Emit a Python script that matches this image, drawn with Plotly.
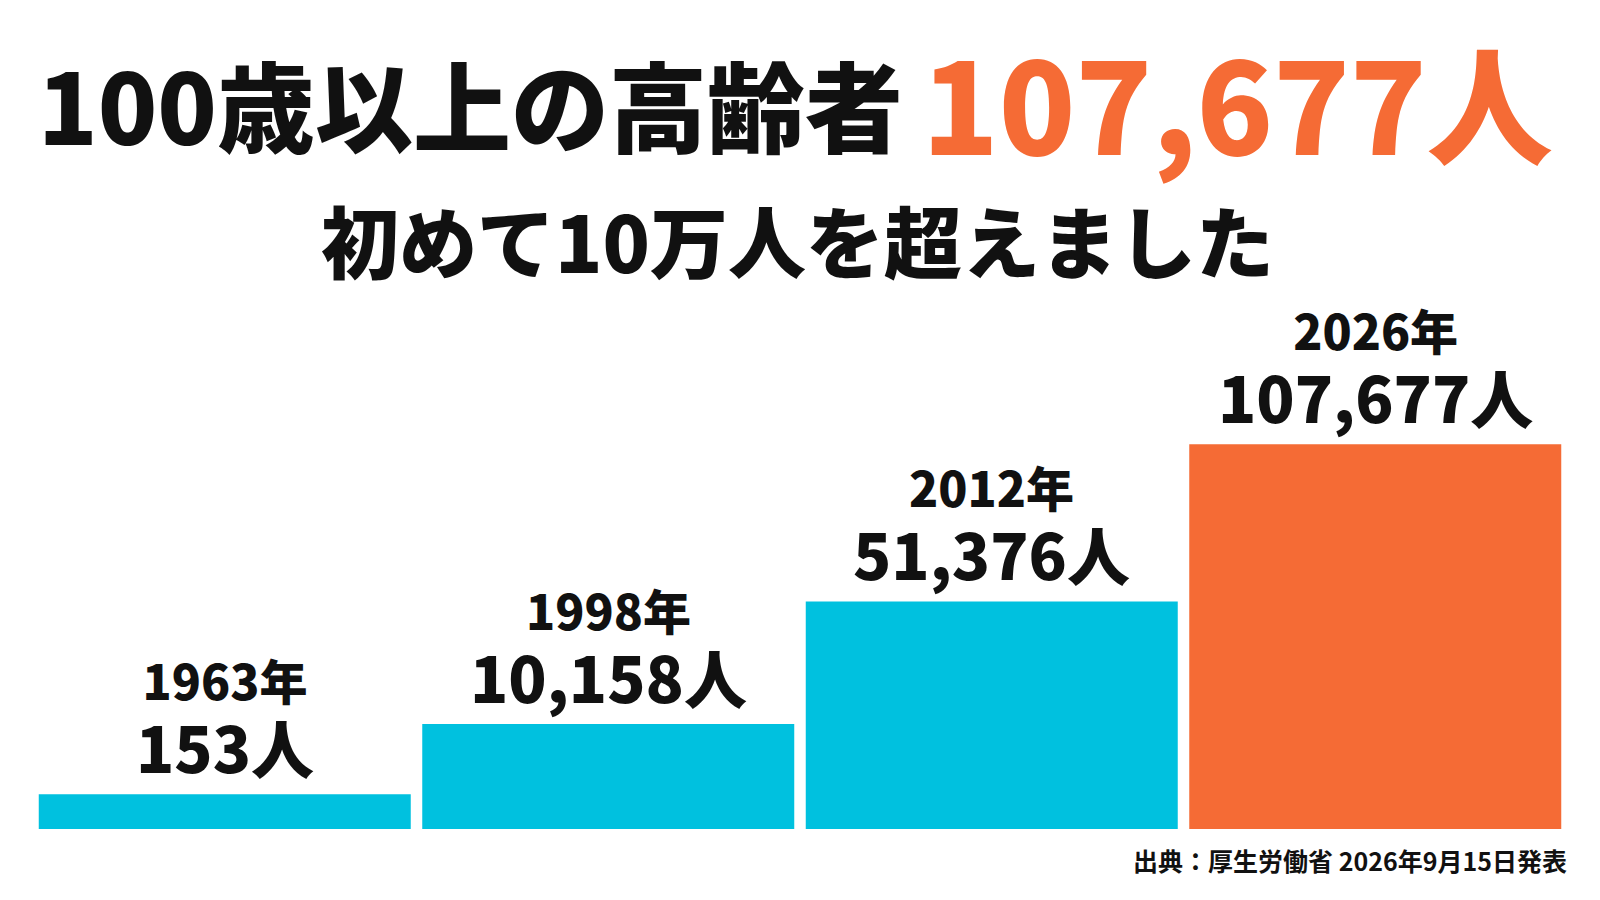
import plotly.graph_objects as go

# data
years = ["1963年", "1998年", "2012年", "2026年"]
people = [153, 10158, 51376, 107677]
# bar heights as drawn in the infographic (not to scale with people)
bar_heights = [34, 103, 223, 377]
bar_colors = ["#00C1DF", "#00C1DF", "#00C1DF", "#F56B35"]

W, H = 1600, 900
L, R, T, B = 25, 41, 300, 79
S = 1600 / 1568  # picture px -> page px
FONT = "Noto Sans CJK JP"
INK = "#111111"


def px(x):
    return (x * S - L) / (W - L - R)


def py(y):
    return (H - B - y * S) / (H - T - B)


fig = go.Figure(go.Bar(
    x=years,
    y=bar_heights,
    marker=dict(color=bar_colors, line=dict(width=0)),
    hoverinfo="skip",
))

# year over count, one label per bar (base size sets the line spacing)
for yr, n, h in zip(years, people, bar_heights):
    fig.add_annotation(x=yr, y=h, xref="x", yref="y",
                       text=(f"<span style='font-size:48px'>{yr}</span><br>"
                             f"<span style='font-size:63px'>{n:,}人</span>"),
                       showarrow=False, yanchor="bottom", yshift=1, align="center",
                       font=dict(family=FONT, size=56, color=INK, weight=900))

# headline
fig.add_annotation(x=px(27), y=py(92), xref="paper", yref="paper",
                   text="100歳以上の高齢者", showarrow=False,
                   xanchor="left", yanchor="middle",
                   font=dict(family=FONT, size=98, color=INK, weight=900))
fig.add_annotation(x=px(1516), y=py(90), xref="paper", yref="paper",
                   text=f"{people[-1]:,}人", showarrow=False,
                   xanchor="right", yanchor="middle",
                   font=dict(family=FONT, size=126, color="#F56B35", weight=900))
fig.add_annotation(x=px(774), y=py(226), xref="paper", yref="paper",
                   text="初めて10万人を超えました", showarrow=False,
                   xanchor="center", yanchor="middle",
                   font=dict(family=FONT, size=78, color=INK, weight=900))
fig.add_annotation(x=px(1530), y=py(835), xref="paper", yref="paper",
                   text="出典：厚生労働省 2026年9月15日発表", showarrow=False,
                   xanchor="right", yanchor="middle",
                   font=dict(family=FONT, size=25, color=INK, weight=700))

fig.update_layout(
    width=W, height=H,
    margin=dict(l=L, r=R, t=T, b=B),
    paper_bgcolor="white", plot_bgcolor="white",
    bargap=0.03,
    showlegend=False,
    xaxis=dict(visible=False),
    yaxis=dict(visible=False, range=[0, (H - T - B) / S]),
)

fig.write_html("out.html")
